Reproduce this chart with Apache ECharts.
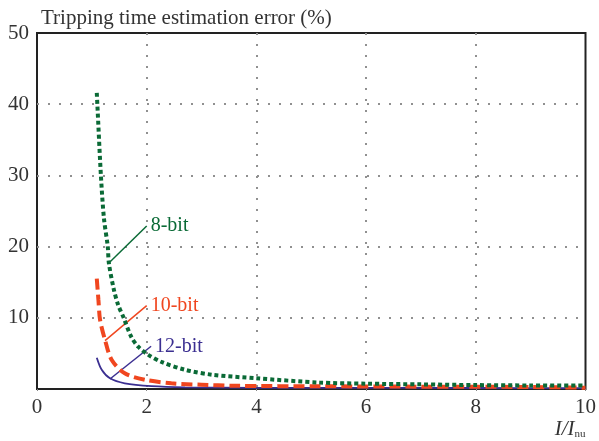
<!DOCTYPE html>
<html>
<head>
<meta charset="utf-8">
<script src="https://cdn.jsdelivr.net/npm/echarts@6/dist/echarts.min.js"></script>
<style>
  html, body { margin: 0; padding: 0; background: #fff; }
  #myChart { width: 599px; height: 441px; }
</style>
</head>
<body>
<div id="myChart"></div>
<script>
// values
const xTicks = [0, 2, 4, 6, 8, 10];
const yTicks = [10, 20, 30, 40, 50];

const bit8 = [
  [1.09, 41.6], [1.10, 40.0], [1.165, 30.0], [1.22, 24.0], [1.29, 20.0], [1.31, 17.7],
  [1.40, 14.0], [1.48, 11.8], [1.58, 10.0], [1.72, 7.3], [1.85, 5.9], [2.03, 4.8],
  [2.27, 3.8], [2.70, 2.7], [3.2, 2.0], [4.0, 1.5], [5.15, 0.9], [6.0, 0.75],
  [7.0, 0.65], [8.0, 0.55], [9.0, 0.5], [10.0, 0.48]
];
const bit10 = [
  [1.09, 15.5], [1.12, 12.5], [1.15, 9.7], [1.24, 6.9], [1.36, 4.1], [1.60, 2.2],
  [1.97, 1.3], [2.45, 0.8], [3.0, 0.6], [3.6, 0.45], [5.2, 0.38], [7.0, 0.33],
  [9.0, 0.28], [10.0, 0.18]
];
const bit12 = [
  [1.09, 4.4], [1.18, 2.7], [1.33, 1.5], [1.60, 0.8], [2.09, 0.4], [2.70, 0.24],
  [4.0, 0.17], [6.0, 0.15], [8.0, 0.14], [10.0, 0.13]
];

// leader lines: [curve point, label point]
const lead8 = [[1.31, 17.7], [2.0, 22.9]];
const lead10 = [[1.24, 6.8], [2.0, 11.7]];
const lead12 = [[1.33, 1.4], [2.08, 6.0]];

const cGreen = '#0a6a36';
const cRed = '#f0461f';
const cBlue = '#3b2f91';
const serif = '"Liberation Serif", "DejaVu Serif", serif';

function leader(pts, name, color) {
  return {
    type: 'line',
    data: [
      { value: pts[0], label: { show: false } },
      { value: pts[1], label: { show: true, formatter: name, position: 'right', distance: 4,
        color: color, fontFamily: serif, fontSize: 20 } }
    ],
    symbol: 'circle',
    symbolSize: 0,
    showSymbol: true,
    lineStyle: { color: color, width: 1.5 },
    silent: true,
    z: 3
  };
}

const myChart = echarts.init(document.getElementById('myChart'));
const option = {
  animation: false,
  textStyle: { fontFamily: serif },
  title: {
    text: 'Tripping time estimation error (%)',
    left: 36, top: 3,
    textStyle: { fontFamily: serif, fontSize: 21, fontWeight: 'normal', color: '#333' }
  },
  grid: {
    left: 37, right: 12, top: 33, bottom: 52,
    show: true, borderColor: '#222', borderWidth: 2, backgroundColor: '#fff'
  },
  xAxis: {
    type: 'value', min: xTicks[0], max: xTicks[xTicks.length - 1], interval: 2,
    axisLine: { show: false },
    axisTick: { show: true, length: 2, lineStyle: { color: '#888' } },
    axisLabel: { color: '#333', fontSize: 21, fontFamily: serif, margin: 8 },
    splitLine: { show: true, showMinLine: false, showMaxLine: false,
      lineStyle: { color: '#909090', width: 2, type: [2, 9] } },
    name: '{i|I/I}{s|nu}',
    nameLocation: 'end',
    nameGap: 0,
    nameTextStyle: {
      align: 'right', verticalAlign: 'top', padding: [30, 0, 0, 0],
      rich: {
        i: { fontStyle: 'italic', fontSize: 21, fontFamily: serif, color: '#333' },
        s: { fontSize: 11, fontFamily: serif, color: '#333', padding: [10, 0, 0, 0] }
      }
    }
  },
  yAxis: {
    type: 'value', min: 0, max: yTicks[yTicks.length - 1], interval: 10,
    axisLine: { show: false },
    axisTick: { show: false },
    axisLabel: {
      color: '#333', fontSize: 21, fontFamily: serif, margin: 8,
      formatter: v => (yTicks.indexOf(v) >= 0 ? String(v) : '')
    },
    splitLine: { show: true, showMinLine: false, showMaxLine: false,
      lineStyle: { color: '#909090', width: 2, type: [2, 9] } }
  },
  series: [
    {
      name: '12-bit', type: 'line', data: bit12, symbol: 'none', smooth: 0.3,
      lineStyle: { color: cBlue, width: 1.8 }, z: 4
    },
    {
      name: '10-bit', type: 'line', data: bit10, symbol: 'none', smooth: 0.3,
      lineStyle: { color: cRed, width: 4, type: [11, 5] }, z: 5
    },
    {
      name: '8-bit', type: 'line', data: bit8, symbol: 'none', smooth: 0.3,
      lineStyle: { color: cGreen, width: 4, type: [4, 3] }, z: 6
    },
    leader(lead8, '8-bit', cGreen),
    leader(lead10, '10-bit', cRed),
    leader(lead12, '12-bit', cBlue)
  ]
};
myChart.setOption(option);
</script>
</body>
</html>
